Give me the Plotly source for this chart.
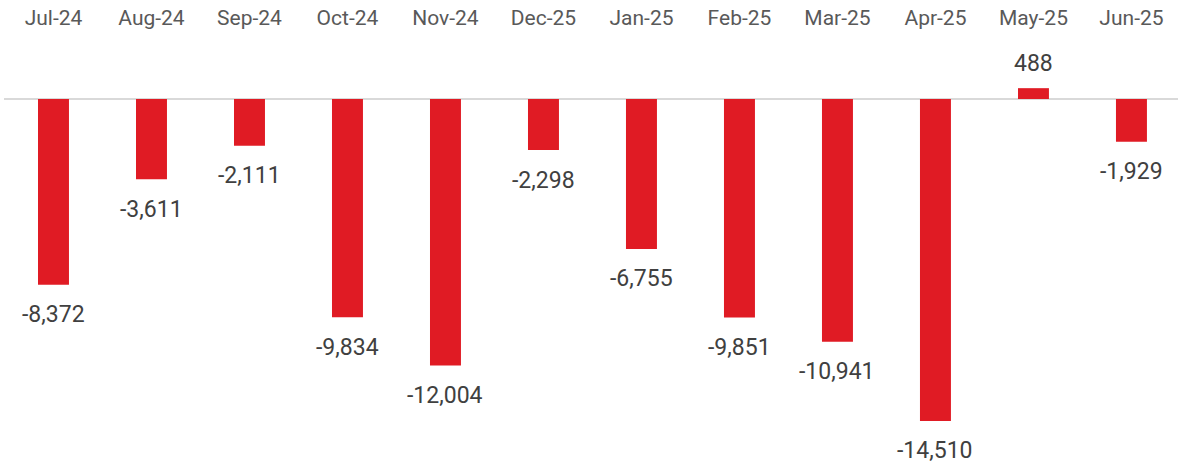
import plotly.graph_objects as go

months = ["Jul-24", "Aug-24", "Sep-24", "Oct-24", "Nov-24", "Dec-25",
          "Jan-25", "Feb-25", "Mar-25", "Apr-25", "May-25", "Jun-25"]
values = [-8372, -3611, -2111, -9834, -12004, -2298,
          -6755, -9851, -10941, -14510, 488, -1929]

FONT = "Roboto, Liberation Sans, sans-serif"
BAR_COLOR = "#E01B24"

fig = go.Figure()
fig.add_trace(go.Bar(
    x=list(range(len(months))),
    y=values,
    width=0.316,
    marker=dict(color=BAR_COLOR, line=dict(width=0)),
    hoverinfo="skip",
))

for i, v in enumerate(values):
    fig.add_annotation(
        x=i, y=v, text=f"{v:,}", showarrow=False,
        yanchor="middle", xanchor="center",
        yshift=25 if v >= 0 else -30,
        font=dict(family=FONT, size=23, color="#404040"),
    )

fig.update_layout(
    width=1178, height=466,
    margin=dict(l=4, r=0, t=40, b=10),
    paper_bgcolor="white", plot_bgcolor="white",
    showlegend=False,
    font=dict(family=FONT),
)
fig.update_xaxes(
    side="top", automargin=False,
    tickmode="array", tickvals=list(range(len(months))), ticktext=months,
    range=[-0.505, 11.475],
    showgrid=False, showline=False, zeroline=False, ticks="",
    tickfont=dict(family=FONT, size=21, color="#595959"),
    ticklabelstandoff=10,
)
fig.update_yaxes(
    range=[-16088, 2659], automargin=False,
    showgrid=False, showticklabels=False, showline=False,
    zeroline=True, zerolinecolor="#D9D9D9", zerolinewidth=2,
)

fig.write_html(
    "out.html",
    config={"displayModeBar": False, "staticPlot": True},
    post_script="document.body.style.margin='0';document.body.style.padding='0';",
)
